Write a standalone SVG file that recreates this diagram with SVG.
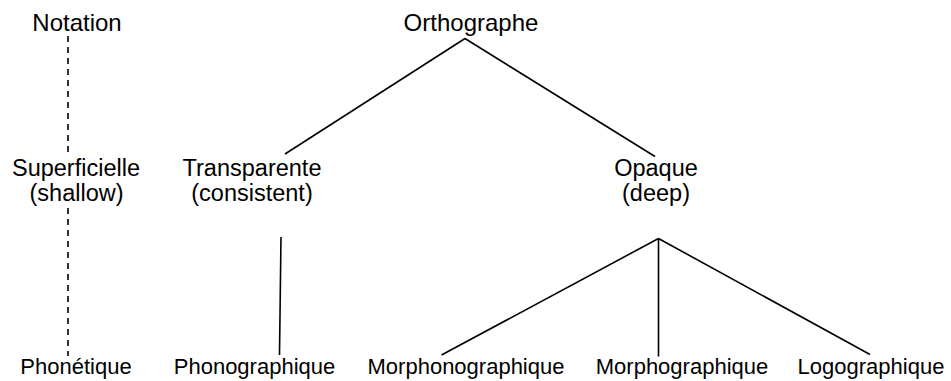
<svg xmlns="http://www.w3.org/2000/svg" width="951" height="381" viewBox="0 0 951 381">
<style>
text{font-family:"Liberation Sans",Arial,sans-serif;fill:#000;text-anchor:middle}
.l{font-size:24px}
.m{font-size:23.5px}
.s{font-size:22px}
.e{stroke:#000;stroke-width:1.6;fill:none}
.d{stroke-dasharray:6 5}
</style>
<rect width="951" height="381" fill="#fff"/>
<g id="connectors">
<line class="e d" x1="68" y1="36" x2="68" y2="156"/>
<line class="e d" x1="68" y1="208" x2="68" y2="356"/>
<line class="e" x1="465" y1="38.5" x2="285" y2="154"/>
<line class="e" x1="465" y1="38.5" x2="655" y2="156.5"/>
<line class="e" x1="281" y1="237" x2="279.5" y2="355"/>
<line class="e" x1="658.5" y1="238.5" x2="441.5" y2="355"/>
<line class="e" x1="658.5" y1="238.5" x2="658.5" y2="356.5"/>
<line class="e" x1="658.5" y1="238.5" x2="870" y2="354.5"/>
</g>
<g id="notation"><text class="l" x="77" y="31">Notation</text></g>
<g id="orthographe"><text class="l" x="471" y="31">Orthographe</text></g>
<g id="superficielle"><text class="m" x="76" y="176">Superficielle</text><text class="m" x="76.5" y="201">(shallow)</text></g>
<g id="transparente"><text class="m" x="252" y="176">Transparente</text><text class="m" x="252" y="201">(consistent)</text></g>
<g id="opaque"><text class="m" x="656" y="176">Opaque</text><text class="m" x="656" y="201">(deep)</text></g>
<g id="phonetique"><text class="s" x="76" y="374">Phonétique</text></g>
<g id="phonographique"><text class="s" x="254.5" y="374">Phonographique</text></g>
<g id="morphonographique"><text class="s" x="466" y="374">Morphonographique</text></g>
<g id="morphographique"><text class="s" x="682" y="374">Morphographique</text></g>
<g id="logographique"><text class="s" x="871" y="374">Logographique</text></g>
</svg>
